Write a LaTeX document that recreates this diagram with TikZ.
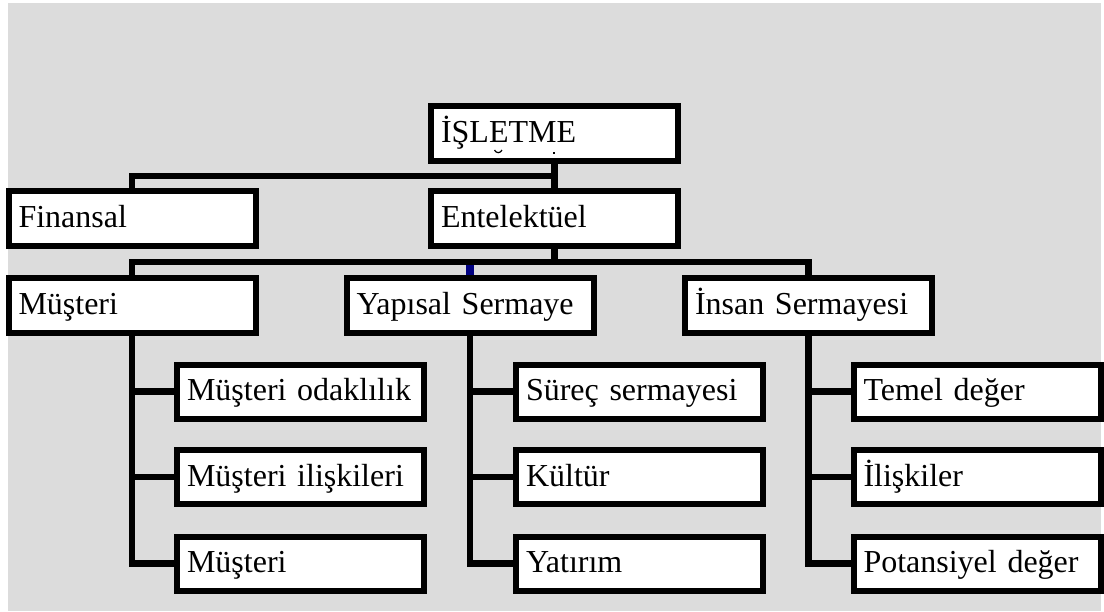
\documentclass[tikz,border=0pt]{standalone}
\usepackage{fontspec}
\setmainfont{Liberation Serif}
\definecolor{panel}{RGB}{220,220,220}
\definecolor{linkblue}{RGB}{0,0,128}
\begin{document}
\begin{tikzpicture}[x=1pt, y=-1pt,
  box/.style={draw=black, line width=6pt, fill=white,
    minimum width=247pt, minimum height=55pt,
    text width=227pt, inner xsep=10pt, inner ysep=0pt, align=left,
    font=\fontsize{32}{38}\selectfont, text height=22pt, text depth=4pt},
  subbox/.style={box, minimum height=54pt},
  wire/.style={draw=black, line width=6.5pt, line join=miter},
  bluewire/.style={draw=linkblue, line width=7.5pt}]
  \useasboundingbox (0,0) rectangle (1104,611);
  \fill[white] (0,0) rectangle (1104,611);
  \fill[panel] (8,3) rectangle (1101,611);

  % top levels
  \node[box] (isl) at (554.5,133.5) {İŞLETME};
  \node[box] (ent) at (554.5,218.5) {Entelektüel};
  \node[box] (fin) at (132,218.5) {Finansal};
  \node[box] (mus) at (132,305) {Müşteri};
  \node[box] (yap) at (470,305) {Yapısal Sermaye};
  \node[box] (ins) at (808.5,305) {İnsan Sermayesi};

  % leaves
  \node[subbox] (m1) at (300.5,391.5) {Müşteri odaklılık};
  \node[subbox] (m2) at (300.5,477)   {Müşteri ilişkileri};
  \node[subbox] (m3) at (300.5,563.5) {Müşteri};
  \node[subbox] (y1) at (639.5,391.5) {Süreç sermayesi};
  \node[subbox] (y2) at (639.5,477)   {Kültür};
  \node[subbox] (y3) at (639.5,563.5) {Yatırım};
  \node[subbox] (i1) at (977,391.5)   {Temel değer};
  \node[subbox] (i2) at (977,477)     {İlişkiler};
  \node[subbox] (i3) at (977,563.5)   {Potansiyel değer};

  % stray glyph marks under the top label
  \draw[line width=1.2pt] (494.5,150) .. controls (496,153.5) and (500.5,153.5) .. (502,150);
  \fill (553,151.5) rectangle (555,153.5);

  % first bus
  \coordinate (bus1) at (554.5,176);
  \draw[wire] (isl.south) -- (ent.north);
  \draw[wire] (fin.north) |- (bus1);

  % second bus
  \coordinate (bus2) at (554.5,262);
  \draw[bluewire] (yap.north) -- (yap.north |- 0,265);
  \draw[wire] (ent.south) -- (bus2);
  \draw[wire] (mus.north) |- (bus2) -| (ins.north);

  % trunks and branches
  \foreach \p/\a/\b/\c in {mus/m1/m2/m3, yap/y1/y2/y3, ins/i1/i2/i3} {
    \draw[wire] (\p.south) |- (\c.west);
    \draw[wire] (\p.south |- \a.west) -- (\a.west);
    \draw[wire] (\p.south |- \b.west) -- (\b.west);
  }
\end{tikzpicture}
\end{document}
